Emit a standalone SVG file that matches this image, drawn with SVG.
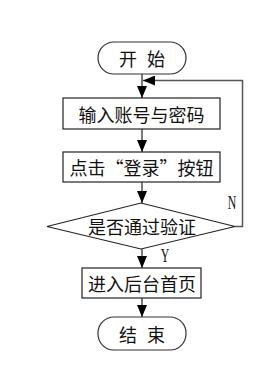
<svg xmlns="http://www.w3.org/2000/svg" width="278" height="388" viewBox="0 0 278 388">
<style>
.shape{fill:#fff;stroke:#222;stroke-width:1.2}
.term{fill:#fff;stroke:#333;stroke-width:1.2}
.lbl{font-family:"Noto Sans CJK SC","Liberation Serif",serif;font-size:18px;fill:#111;text-anchor:middle;dominant-baseline:central}
.yn{font-family:"Liberation Serif",serif;font-size:19px;fill:#111;text-anchor:middle}
.conn{fill:none;stroke:#222;stroke-width:1.2}
.fb{fill:none;stroke:#555;stroke-width:1.5}
</style>
<defs>
<marker id="arr" viewBox="0 0 12 10" refX="12" refY="5" markerWidth="12" markerHeight="10" markerUnits="userSpaceOnUse" orient="auto">
<path d="M0,0 L12,5 L0,10 Z" fill="#000"/>
</marker>
</defs>
<rect width="278" height="388" fill="#fff"/>
<g id="connectors">
<line class="conn" x1="142" y1="74" x2="142" y2="98" marker-end="url(#arr)"/>
<line class="conn" x1="142" y1="129" x2="142" y2="152" marker-end="url(#arr)"/>
<line class="conn" x1="142" y1="182" x2="142" y2="203" marker-end="url(#arr)"/>
<line class="conn" x1="142" y1="249" x2="142" y2="268" marker-end="url(#arr)"/>
<line class="conn" x1="142" y1="298" x2="142" y2="317" marker-end="url(#arr)"/>
<polyline class="fb" points="235,226.5 242.5,226.5 242.5,80.5 143,80.5" marker-end="url(#arr)"/>
<text class="yn" transform="translate(232,208.5) scale(0.62,1)">N</text>
<text class="yn" transform="translate(165,261.5) scale(0.62,1)">Y</text>
</g>
<g id="start">
<rect class="term" x="98" y="42" width="88" height="32" rx="16" ry="16"/>
<text class="lbl" x="142" y="58" word-spacing="6">开 始</text>
</g>
<g id="input">
<rect class="shape" x="63" y="98" width="157" height="31"/>
<text class="lbl" x="141.5" y="113.5">输入账号与密码</text>
</g>
<g id="click">
<rect class="shape" x="63" y="152" width="157" height="30"/>
<text class="lbl" x="141.5" y="167">点击“登录”按钮</text>
</g>
<g id="verify">
<polygon class="shape" points="47,226.5 141,203 235,226.5 141,249"/>
<text class="lbl" x="142" y="226">是否通过验证</text>
</g>
<g id="home">
<rect class="shape" x="82" y="268" width="119" height="30"/>
<text class="lbl" x="142" y="283">进入后台首页</text>
</g>
<g id="end">
<rect class="term" x="98" y="317" width="88" height="33" rx="16" ry="16"/>
<text class="lbl" x="142" y="333.5" word-spacing="6">结 束</text>
</g>
</svg>
